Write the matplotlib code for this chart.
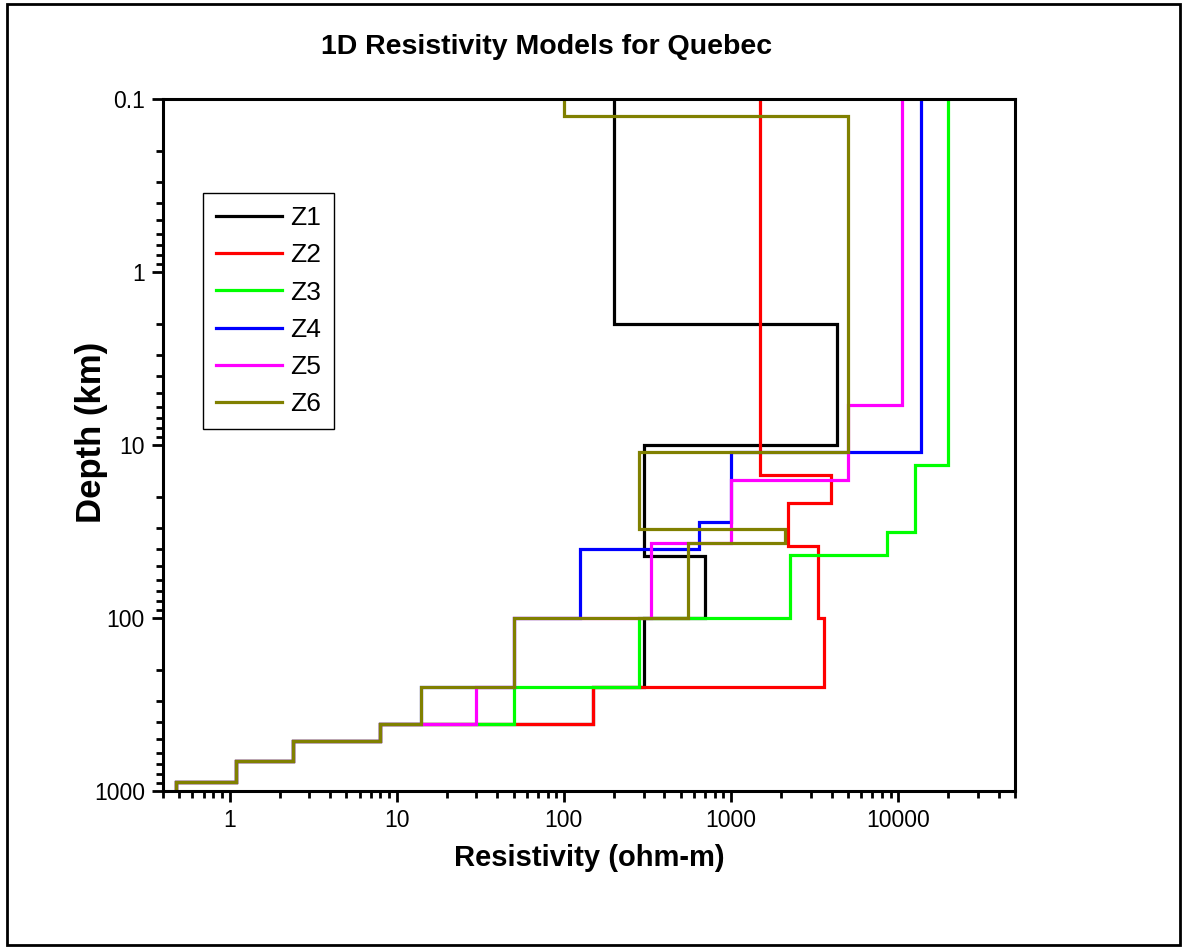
import matplotlib
matplotlib.use("Agg")
import matplotlib.pyplot as plt
from matplotlib.ticker import FixedLocator, FixedFormatter, LogLocator, NullFormatter
from matplotlib.patches import Rectangle
import numpy as np

plt.rcParams['font.family'] = ['Liberation Sans', 'DejaVu Sans']

# ---- data (resistivity in ohm-m per layer, layer boundaries in km) ----
names = ["Z1", "Z2", "Z3", "Z4", "Z5", "Z6"]
colors = ["#000000", "#ff0000", "#00ff00", "#0000ff", "#ff00ff", "#808000"]

z1_res = [200, 4300, 300, 700, 300, 150, 8, 2.4, 1.1, 0.48]
z1_dep = [0.1, 2.0, 10, 44, 100, 250, 410, 514, 672, 887, 1000]

z2_res = [1500, 3950, 2200, 3300, 3600, 150, 8, 2.4, 1.1, 0.48]
z2_dep = [0.1, 15, 21.7, 38.4, 100, 250, 410, 514, 672, 887, 1000]

z3_res = [20000, 12600, 8600, 2250, 280, 50, 8, 2.4, 1.1, 0.48]
z3_dep = [0.1, 13.1, 31.8, 43, 100, 250, 410, 514, 672, 887, 1000]

z4_res = [13700, 1000, 640, 125, 50, 14, 8, 2.4, 1.1, 0.48]
z4_dep = [0.1, 11, 28, 40, 100, 250, 410, 514, 672, 887, 1000]

z5_res = [10500, 5000, 1000, 330, 50, 30, 8, 2.4, 1.1, 0.48]
z5_dep = [0.1, 5.9, 15.9, 36.8, 100, 250, 410, 514, 672, 887, 1000]

z6_res = [100, 5000, 280, 2100, 550, 50, 14, 8, 2.4, 1.1, 0.48]
z6_dep = [0.1, 0.125, 11, 30.6, 37, 100, 250, 410, 514, 672, 887, 1000]

x_ticks = [1, 10, 100, 1000, 10000]
x_ticklabels = ["1", "10", "100", "1000", "10000"]
y_ticks = [0.1, 1, 10, 100, 1000]
y_ticklabels = ["0.1", "1", "10", "100", "1000"]

models = [(z1_res, z1_dep), (z2_res, z2_dep), (z3_res, z3_dep),
          (z4_res, z4_dep), (z5_res, z5_dep), (z6_res, z6_dep)]

W, H = 1183, 948
fig = plt.figure(figsize=(W / 100, H / 100), dpi=100)
ax = fig.add_axes([163 / W, 1 - 791 / H, (1015 - 163) / W, (791 - 99) / H])

for (res, dep), name, c in zip(models, names, colors):
    ax.stairs(res, dep, orientation='horizontal', baseline=None,
              color=c, linewidth=2.3, label=name)

ax.set_xscale('log')
ax.set_yscale('log')
ax.set_xlim(0.4, 50000)
ax.set_ylim(1000, 0.1)

ax.xaxis.set_major_locator(FixedLocator(x_ticks))
ax.xaxis.set_major_formatter(FixedFormatter(x_ticklabels))
ax.xaxis.set_minor_locator(LogLocator(base=10, subs=np.arange(2, 10), numticks=20))
ax.xaxis.set_minor_formatter(NullFormatter())
ax.yaxis.set_major_locator(FixedLocator(y_ticks))
ax.yaxis.set_major_formatter(FixedFormatter(y_ticklabels))
ax.yaxis.set_minor_locator(LogLocator(base=10, subs=np.arange(2, 10), numticks=20))
ax.yaxis.set_minor_formatter(NullFormatter())

ax.tick_params(which='both', direction='out', top=False, right=False, width=2.0)
ax.tick_params(which='major', length=8, labelsize=16.5, pad=5)
ax.tick_params(which='minor', length=5)
for s in ax.spines.values():
    s.set_linewidth(2.2)

ax.set_xlabel("Resistivity (ohm-m)", fontsize=21, fontweight='bold')
ax.xaxis.set_label_coords(0.5, -(858 - 791) / (791 - 99))
ax.xaxis.label.set_va('center')
ax.set_ylabel("Depth (km)", fontsize=25, fontweight='bold')
ax.yaxis.set_label_coords(-(163 - 92) / (1015 - 163), (791 - 432) / (791 - 99))
ax.yaxis.label.set_va('center')
fig.text((318 + 775) / 2 / W, 1 - 47 / H, "1D Resistivity Models for Quebec",
         fontsize=20.5, fontweight='bold', ha='center', va='center')

leg = ax.legend(loc='upper left', bbox_to_anchor=((203 - 163) / (1015 - 163), (791 - 193) / (791 - 99)),
                fontsize=19, frameon=True, fancybox=False, framealpha=1,
                edgecolor='black', handlelength=2.5, handletextpad=0.3,
                labelspacing=0.5, borderpad=0.5, borderaxespad=0)
leg.get_frame().set_linewidth(1.0)

fig.patches.append(Rectangle((7 / W, 3 / H), (1180 - 7) / W, (944 - 3) / H,
                             transform=fig.transFigure, fill=False,
                             edgecolor='black', linewidth=2.0))

fig.savefig("out.png", dpi=100)
